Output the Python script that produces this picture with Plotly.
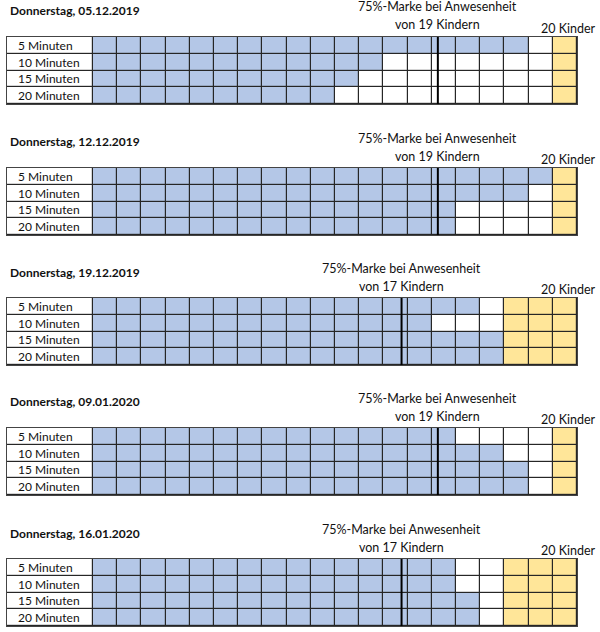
import plotly.graph_objects as go

# ---- data ----
dates = ["05.12.2019", "12.12.2019", "19.12.2019", "09.01.2020", "16.01.2020"]
present = [19, 19, 17, 19, 17]
total_children = 20
row_labels = ["5 Minuten", "10 Minuten", "15 Minuten", "20 Minuten"]
counts_0512 = [18, 12, 11, 10]
counts_1212 = [19, 18, 15, 15]
counts_1912 = [16, 14, 17, 17]
counts_0901 = [15, 17, 18, 18]
counts_1601 = [15, 15, 16, 16]
all_counts = [counts_0512, counts_1212, counts_1912, counts_0901, counts_1601]
mark_share = 0.75

# ---- layout constants (pixels) ----
W, H = 600, 632
grid_left_px, cells_left_px, grid_right_px = 7, 93, 577
cell_w = (grid_right_px - cells_left_px) / total_children
label_w = (cells_left_px - grid_left_px) / cell_w
grid_tops = [37, 168, 298, 428, 559]
grid_h = 67

BLUE = "#B4C7E7"
YELLOW = "#FFE699"
WHITE = "#FFFFFF"
FONT = "Lato"

fig = go.Figure()
annotations = []
layout_axes = {}

x_edges = [-label_w] + list(range(0, total_children + 1))

for k, (date, pres, counts) in enumerate(zip(dates, present, all_counts)):
    T = grid_tops[k]
    xname = "x" if k == 0 else f"x{k+1}"
    yname = "y" if k == 0 else f"y{k+1}"
    z = []
    for c in counts:
        row = [0]
        for i in range(total_children):
            if i < c:
                row.append(1)
            elif i < pres:
                row.append(0)
            else:
                row.append(2)
        z.append(row)
    fig.add_trace(go.Heatmap(
        z=z, x=x_edges, y=list(range(len(row_labels))),
        zmin=0, zmax=2,
        colorscale=[[0, WHITE], [0.5, BLUE], [1, YELLOW]],
        showscale=False, xgap=1.2, ygap=1.2, hoverinfo="skip",
        xaxis=xname, yaxis=yname,
    ))
    mark = pres * mark_share
    fig.add_trace(go.Scatter(
        x=[mark, mark], y=[-0.5, len(row_labels) - 0.5], mode="lines",
        line=dict(color="#000000", width=2), hoverinfo="skip",
        showlegend=False, xaxis=xname, yaxis=yname,
    ))
    dom_y = [1 - (T + grid_h) / H, 1 - T / H]
    axkw = dict(showgrid=False, zeroline=False, showticklabels=False, ticks="",
                showline=True, mirror=True, linecolor="#444444", linewidth=1)
    layout_axes["xaxis" if k == 0 else f"xaxis{k+1}"] = dict(
        domain=[grid_left_px / W, grid_right_px / W],
        range=[-label_w, total_children], anchor=yname, **axkw)
    layout_axes["yaxis" if k == 0 else f"yaxis{k+1}"] = dict(
        domain=dom_y, range=[len(row_labels) - 0.5, -0.5], anchor=xname, **axkw)

    for r, lab in enumerate(row_labels):
        annotations.append(dict(
            x=-label_w + 0.38, y=r, xref=xname, yref=yname, text=lab,
            showarrow=False, xanchor="left", yanchor="middle",
            font=dict(family=FONT, size=12, color="#111111")))
    annotations.append(dict(
        x=8 / W, y=1 - (T - 26) / H, xref="paper", yref="paper",
        text=f"<b>Donnerstag, {date}</b>", showarrow=False,
        xanchor="left", yanchor="middle",
        font=dict(family=FONT, size=12, color="#111111")))
    annotations.append(dict(
        x=mark, y=1 - (T - 30) / H, xref=xname, yref="paper",
        text="75%-Marke bei Anwesenheit", showarrow=False,
        xanchor="center", yanchor="middle",
        font=dict(family=FONT, size=12.5, color="#111111")))
    annotations.append(dict(
        x=mark, y=1 - (T - 12) / H, xref=xname, yref="paper",
        text=f"von {pres} Kindern", showarrow=False,
        xanchor="center", yanchor="middle",
        font=dict(family=FONT, size=12.5, color="#111111")))
    annotations.append(dict(
        x=598 / W, y=1 - (T - 9) / H, xref="paper", yref="paper",
        text=f"{total_children} Kinder", showarrow=False,
        xanchor="right", yanchor="middle",
        font=dict(family=FONT, size=12.5, color="#111111")))

fig.update_layout(
    width=W, height=H, margin=dict(l=0, r=0, t=0, b=0),
    paper_bgcolor="white", plot_bgcolor="#262626",
    showlegend=False, annotations=annotations, **layout_axes,
)

fig.write_html(
    "out.html", config={"displayModeBar": False},
    post_script="document.body.style.margin='0';document.body.style.overflow='hidden';",
)
